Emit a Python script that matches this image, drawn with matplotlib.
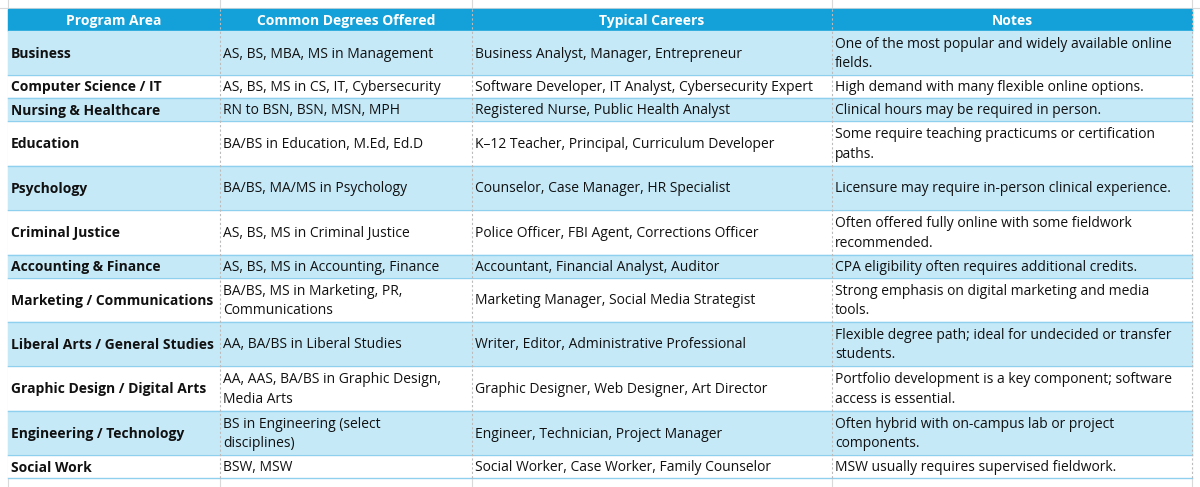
import matplotlib.pyplot as plt

headers = ['Program Area', 'Common Degrees Offered', 'Typical Careers', 'Notes']
areas = ['Business', 'Computer Science / IT', 'Nursing & Healthcare', 'Education', 'Psychology',
         'Criminal Justice', 'Accounting & Finance', 'Marketing / Communications',
         'Liberal Arts / General Studies', 'Graphic Design / Digital Arts',
         'Engineering / Technology', 'Social Work']
degrees = ['AS, BS, MBA, MS in Management', 'AS, BS, MS in CS, IT, Cybersecurity',
           'RN to BSN, BSN, MSN, MPH', 'BA/BS in Education, M.Ed, Ed.D',
           'BA/BS, MA/MS in Psychology', 'AS, BS, MS in Criminal Justice',
           'AS, BS, MS in Accounting, Finance', 'BA/BS, MS in Marketing, PR,\nCommunications',
           'AA, BA/BS in Liberal Studies', 'AA, AAS, BA/BS in Graphic Design,\nMedia Arts',
           'BS in Engineering (select\ndisciplines)', 'BSW, MSW']
careers = ['Business Analyst, Manager, Entrepreneur',
           'Software Developer, IT Analyst, Cybersecurity Expert',
           'Registered Nurse, Public Health Analyst',
           'K\u201312 Teacher, Principal, Curriculum Developer',
           'Counselor, Case Manager, HR Specialist',
           'Police Officer, FBI Agent, Corrections Officer',
           'Accountant, Financial Analyst, Auditor',
           'Marketing Manager, Social Media Strategist',
           'Writer, Editor, Administrative Professional',
           'Graphic Designer, Web Designer, Art Director',
           'Engineer, Technician, Project Manager',
           'Social Worker, Case Worker, Family Counselor']
notes = ['One of the most popular and widely available online\nfields.',
         'High demand with many flexible online options.',
         'Clinical hours may be required in person.',
         'Some require teaching practicums or certification\npaths.',
         'Licensure may require in-person clinical experience.',
         'Often offered fully online with some fieldwork\nrecommended.',
         'CPA eligibility often requires additional credits.',
         'Strong emphasis on digital marketing and media\ntools.',
         'Flexible degree path; ideal for undecided or transfer\nstudents.',
         'Portfolio development is a key component; software\naccess is essential.',
         'Often hybrid with on-campus lab or project\ncomponents.',
         'MSW usually requires supervised fieldwork.']
row_heights = [44, 23, 23, 45, 44, 45, 23, 44, 44, 45, 44, 23]

col_edges = [8, 220, 472, 832, 1192]
header_top, header_bottom = 9, 31
font = 'Open Sans'
fs = 10

fig = plt.figure(figsize=(12, 4.87), dpi=100)
ax = fig.add_axes([0, 0, 1, 1])
ax.set_xlim(0, 1200)
ax.set_ylim(487, 0)
ax.axis('off')

# spreadsheet background gridlines
for x in [8, 220, 472, 832, 1192]:
    ax.plot([x, x], [0, 487], color='#d9d9d9', lw=0.8, zorder=0)
ax.plot([0, 1200], [8, 8], color='#d9d9d9', lw=0.8, zorder=0)

ax.add_patch(plt.Rectangle((col_edges[0], header_top), col_edges[-1] - col_edges[0],
                           header_bottom - header_top, color='#14a0d8', zorder=1))
for i, h in enumerate(headers):
    cx = (col_edges[i] + col_edges[i + 1]) / 2
    ax.text(cx, (header_top + header_bottom) / 2 + 1, h, ha='center', va='center',
            color='white', fontweight='bold', fontsize=fs, family=font, zorder=3)

y = header_bottom
for r in range(len(areas)):
    h = row_heights[r]
    if r % 3 != 1 and r not in (3, 5, 7, 9, 11) or r in (0, 2, 4, 6, 8, 10):
        pass
    shaded = r in (0, 2, 4, 6, 8, 10)
    ax.add_patch(plt.Rectangle((col_edges[0], y), col_edges[-1] - col_edges[0], h,
                               color='#c6e9f8' if shaded else 'white', zorder=1))
    ax.plot([col_edges[0], col_edges[-1]], [y + h, y + h], color='#8fd0ee', lw=1, zorder=2)
    cells = [areas[r], degrees[r], careers[r], notes[r]]
    for c, txt in enumerate(cells):
        ax.text(col_edges[c] + 3, y + h / 2 + 1, txt, ha='left', va='center',
                fontsize=fs, family=font, color='#111111', linespacing=1.45,
                fontweight='bold' if c == 0 else 'normal', zorder=3)
    y += h

for x in col_edges[1:-1]:
    ax.plot([x, x], [header_top, y], color='#bbbbbb', lw=0.8, ls=(0, (2, 2)), zorder=2)
ax.plot([col_edges[-1], col_edges[-1]], [header_top, y], color='#bbbbbb', lw=0.8, ls=(0, (2, 2)), zorder=2)

fig.savefig('out.png', dpi=100)
